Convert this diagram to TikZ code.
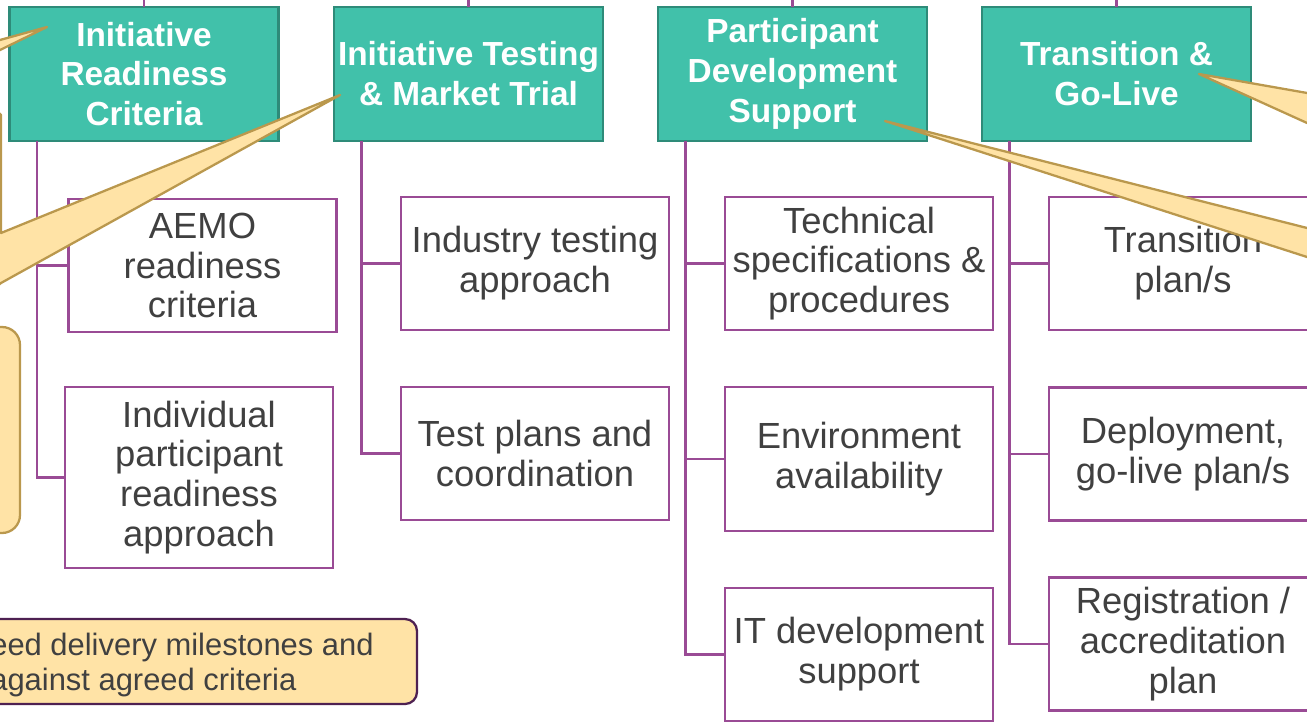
\documentclass[tikz,border=0pt]{standalone}
\usepackage{fontspec}
\setmainfont{Liberation Sans}
\usetikzlibrary{positioning}

\definecolor{headfill}{HTML}{41C1AA}
\definecolor{headedge}{HTML}{2E8B79}
\definecolor{plum}{HTML}{9A4B95}
\definecolor{textgrey}{HTML}{404040}
\definecolor{notefill}{HTML}{FFE3A6}
\definecolor{noteedge}{HTML}{BA984D}
\definecolor{noteframe}{HTML}{4E2152}

\begin{document}
\begin{tikzpicture}[x=0.02cm, y=-0.02cm,
    head/.style={draw=headedge, fill=headfill, line width=1.35pt, text=white,
      font=\fontsize{19}{22.7}\selectfont\bfseries, align=center,
      minimum width=5.38cm, minimum height=2.68cm, inner sep=0pt, outer sep=0pt},
    item/.style={draw=plum, fill=white, line width=1.35pt, text=textgrey,
      font=\fontsize{20.7}{22.7}\selectfont, align=center,
      minimum width=5.36cm, minimum height=2.66cm, inner sep=0pt, outer sep=0pt},
    link/.style={draw=plum, line width=1.35pt},
    note/.style={fill=notefill, draw=noteedge, line width=1.3pt, line join=round}]
  \useasboundingbox (0,0) rectangle (1307,721);
  \clip (0,0) rectangle (1307,721);
  \coordinate (top) at (0,0);

  % Stream headers
  \node[head] (readiness) at (144,74) {Initiative\\Readiness\\Criteria};
  \node[head] (testing) at (468.5,74) {Initiative Testing\\\& Market Trial};
  \node[head] (support) at (792.5,74) {Participant\\Development\\Support};
  \node[head] (golive) at (1116.5,74) {Transition \&\\Go-Live};

  % Deliverables under each stream
  \node[item] (aemo) at (202.5,265.5) {AEMO\\readiness\\criteria};
  \node[item, minimum height=3.62cm] (individual) at (199,477.5) {Individual\\participant\\readiness\\approach};
  \node[item] (approach) at (535,263.5) {Industry testing\\approach};
  \node[item] (testplans) at (535,453.5) {Test plans and\\coordination};
  \node[item] (techspec) at (859,263.5) {Technical\\specifications \&\\procedures};
  \node[item, minimum height=2.88cm] (environment) at (859,459) {Environment\\availability};
  \node[item] (itsupport) at (859,654.5) {IT development\\support};
  \node[item] (transplan) at (1183,263.5) {Transition\\plan/s};
  \node[item] (deploy) at (1183,454) {Deployment,\\go-live plan/s};
  \node[item] (registration) at (1183,644) {Registration /\\accreditation\\plan};

  % Stubs up to the level above
  \foreach \h in {readiness,testing,support,golive}
    \draw[link] (\h.north) -- (\h.north |- top);

  % Trunks and branches
  \coordinate (t1) at ([xshift=0.55cm]readiness.south west);
  \draw[link] (t1) |- (individual.west);
  \draw[link] (t1 |- aemo.west) -- (aemo.west);

  \coordinate (t2) at ([xshift=0.55cm]testing.south west);
  \draw[link] (t2) |- (testplans.west);
  \draw[link] (t2 |- approach.west) -- (approach.west);

  \coordinate (t3) at ([xshift=0.55cm]support.south west);
  \draw[link] (t3) |- (itsupport.west);
  \draw[link] (t3 |- techspec.west) -- (techspec.west);
  \draw[link] (t3 |- environment.west) -- (environment.west);

  \coordinate (t4) at ([xshift=0.55cm]golive.south west);
  \draw[link] (t4) |- (registration.west);
  \draw[link] (t4 |- transplan.west) -- (transplan.west);
  \draw[link] (t4 |- deploy.west) -- (deploy.west);

  % Callouts coming in from the sides
  \filldraw[note] (-20,45.5) -- (47,27) -- (-20,59.8) -- cycle;
  \filldraw[note] (-20,95) -- (1,115) -- (1,233) -- (340,95) -- (1,283) -- (-20,300) -- cycle;
  \filldraw[note, rounded corners=0.36cm] (-100,327) rectangle (20,533);
  \filldraw[note] (1199,74) -- (1330,97) -- (1330,133.4) -- cycle;
  \filldraw[note] (885,121) -- (1330,233.8) -- (1330,264.4) -- cycle;

  % Milestone note
  \filldraw[fill=notefill, draw=noteframe, line width=1.3pt, rounded corners=0.24cm]
    (-100,619) rectangle (417,704);
  \node[anchor=west, align=left, inner sep=0pt, text=textgrey,
    font=\fontsize{17.6}{19.8}\selectfont] (milestones) at (-10,665)
    {eed delivery milestones and\\against agreed criteria};
\end{tikzpicture}
\end{document}
